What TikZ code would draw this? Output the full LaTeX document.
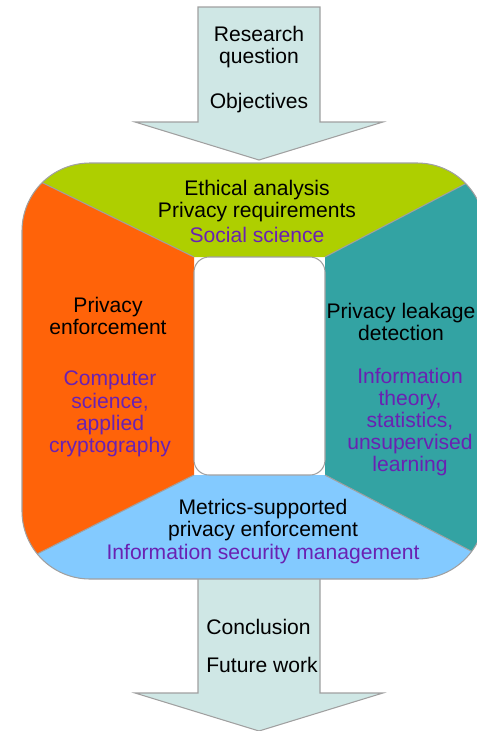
\documentclass[tikz,border=0pt]{standalone}
\usepackage{fontspec}
\setmainfont{Liberation Sans}
\usetikzlibrary{calc}

\definecolor{arrowfill}{HTML}{CFE7E5}
\definecolor{edgegray}{HTML}{A0A0A0}
\definecolor{ethicsgreen}{HTML}{AECF00}
\definecolor{enforceorange}{HTML}{FF6309}
\definecolor{leakteal}{HTML}{33A3A3}
\definecolor{metricblue}{HTML}{83CAFF}
\definecolor{fieldpurple}{HTML}{6A21B2}

\tikzset{
  flowarrow/.style={fill=arrowfill, draw=edgegray, line width=0.6pt},
  sector/.style={draw=edgegray, line width=0.6pt},
  lbl/.style={align=center, inner sep=0pt, font=\fontsize{12}{12.6}\selectfont},
  field/.style={lbl, text=fieldpurple}
}

\begin{document}
\begin{tikzpicture}[x=0.02cm,y=-0.02cm]

  \useasboundingbox (0,0) rectangle (477,731);

  % inner corners
  \coordinate (I1) at (194,257);
  \coordinate (I2) at (325,257);
  \coordinate (I3) at (325,475);
  \coordinate (I4) at (194,475);

  % outer corners
  \coordinate (A) at (43,183);
  \coordinate (B) at (463,185);
  \coordinate (C) at (469,550);
  \coordinate (D) at (39,553);

  % Draw arrows
  \draw [flowarrow] (198,7) -- (320,7) -- (320,122) -- (383,122) -- (259,160) -- (135,122) -- (198,122) -- cycle;
  \draw [flowarrow] (198,570) -- (320,570) -- (320,693) -- (383,693) -- (259,731) -- (135,693) -- (198,693) -- cycle;

  % Draw sectors
  \begin{scope}
    \clip [rounded corners=1.36cm] (22,163) rectangle (485,579);
    \fill [ethicsgreen] (I1) -- ($(I1)!1.6!(A)$) -- (-80,100) -- (560,100) -- ($(I2)!1.6!(B)$) -- (I2) -- cycle;
    \fill [leakteal] (I2) -- ($(I2)!1.6!(B)$) -- (560,100) -- (560,650) -- ($(I3)!1.6!(C)$) -- (I3) -- cycle;
    \fill [metricblue] (I3) -- ($(I3)!1.6!(C)$) -- (560,650) -- (-80,650) -- ($(I4)!1.6!(D)$) -- (I4) -- cycle;
    \fill [enforceorange] (I4) -- ($(I4)!1.6!(D)$) -- (-80,650) -- (-80,100) -- ($(I1)!1.6!(A)$) -- (I1) -- cycle;
    \draw [sector] (I1) -- ($(I1)!1.6!(A)$);
    \draw [sector] (I2) -- ($(I2)!1.6!(B)$);
    \draw [sector] (I3) -- ($(I3)!1.6!(C)$);
    \draw [sector] (I4) -- ($(I4)!1.6!(D)$);
  \end{scope}
  \draw [sector, rounded corners=1.36cm] (22,163) rectangle (485,579);
  \draw [sector, fill=white, rounded corners=0.3cm] (I1) rectangle (I3);

  % Labels
  \node [lbl] (research) at (259,47) {Research\\question};
  \node [lbl] (objectives) at (259,103) {Objectives};

  \node [lbl] (ethics) at (257,201) {Ethical analysis\\Privacy requirements};
  \node [field] (social) at (257,235) {Social science};

  \node [lbl] (enforce) at (108,316) {Privacy\\enforcement};
  \node [field] (compsci) at (110,414) {Computer\\science,\\applied\\cryptography};

  \node [lbl] (leakage) at (401,322) {Privacy leakage\\detection};
  \node [field] (infotheory) at (410,422) {Information\\theory,\\statistics,\\unsupervised\\learning};

  \node [lbl] (metrics) at (263,520) {Metrics-supported\\privacy enforcement};
  \node [field] (secmgmt) at (263,554) {Information security management};

  \node [lbl, anchor=west] (conclusion) at (206,627) {Conclusion};
  \node [lbl, anchor=west] (future) at (206,665) {Future work};

\end{tikzpicture}
\end{document}
